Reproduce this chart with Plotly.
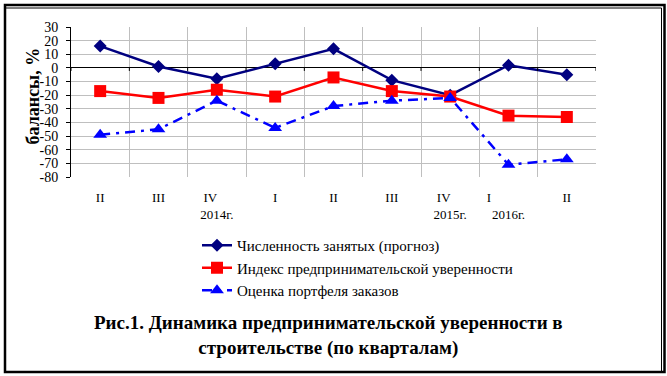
import plotly.graph_objects as go

# ---- data ----
periods = ["2014-II", "2014-III", "2014-IV", "2015-I", "2015-II", "2015-III", "2015-IV", "2016-I", "2016-II"]
tick_labels = ["II", "III", "IV\u00a0\u00a0\u00a0\u00a0<br>2014г.", "I", "II", "III",
               "IV\u00a0\u00a0\u00a0\u00a0<br>2015г.",
               "I\u00a0\u00a0\u00a0\u00a0\u00a0\u00a0\u00a0\u00a0\u00a0\u00a0\u00a0\u00a0<br>2016г.", "II"]
employment = [16, 1, -8, 3, 14, -9, -20, 2, -5]
confidence = [-17, -22, -16, -21, -7, -17, -21, -35, -36]
orders = [-49, -45, -24, -44, -28, -24, -22, -71, -67]

series_names = ["Численность занятых (прогноз)",
                "Индекс предпринимательской уверенности",
                "Оценка портфеля заказов"]
y_ticks = list(range(-80, 31, 10))
y_tick_text = [str(v) for v in y_ticks]

# ---- layout geometry (pixels) ----
W, H = 667, 376
L, R, T, B = 71, 71, 27, 199
PW, PH = W - L - R, H - T - B


def px(x):
    return (x - L) / PW


def py(y):
    return 1 - (y - T) / PH


SERIF = "Liberation Serif, Times New Roman, serif"

fig = go.Figure()
fig.add_trace(go.Scatter(
    x=periods, y=employment, name=series_names[0], mode="lines+markers",
    line=dict(color="#000080", width=2.5),
    marker=dict(symbol="diamond", size=10, color="#000080")))
fig.add_trace(go.Scatter(
    x=periods, y=confidence, name=series_names[1], mode="lines+markers",
    line=dict(color="#FF0000", width=2.5),
    marker=dict(symbol="square", size=12, color="#FF0000")))
fig.add_trace(go.Scatter(
    x=periods, y=orders, name=series_names[2], mode="lines+markers",
    line=dict(color="#0000FF", width=2.5, dash="10px,6px,3px,6px"),
    marker=dict(symbol="triangle-up", size=12, color="#0000FF")))

fig.update_xaxes(
    type="category", categoryorder="array", categoryarray=periods,
    tickmode="array", tickvals=periods, ticktext=tick_labels,
    tickson="boundaries", showgrid=True, gridcolor="#BFBFBF", gridwidth=1,
    ticks="", showline=False, zeroline=False,
    tickfont=dict(family=SERIF, size=13, color="black"),
    ticklabelstandoff=11, range=[-0.5, 8.5])
fig.update_yaxes(
    range=[-80, 30], tickmode="array", tickvals=y_ticks, ticktext=y_tick_text,
    showgrid=True, gridcolor="#BFBFBF", gridwidth=1,
    ticks="outside", ticklen=4, tickcolor="black", showline=True, linecolor="black", linewidth=1,
    zeroline=True, zerolinecolor="black", zerolinewidth=1,
    tickfont=dict(family=SERIF, size=14, color="black"), ticklabelstandoff=5)

# small tick marks on the zero line at category boundaries
for i in range(len(periods) + 1):
    fig.add_shape(type="line", xref="x", yref="y", x0=i - 0.5, x1=i - 0.5, y0=0, y1=-2.2,
                  line=dict(color="black", width=1))

# y-axis title
fig.add_annotation(text="<b>балансы, %</b>", textangle=-90, xref="paper", yref="paper",
                   x=px(32.5), y=py(96), xanchor="center", yanchor="middle", showarrow=False,
                   font=dict(family=SERIF, size=18, color="black"))

# caption
fig.add_annotation(text="<b>Рис.1. Динамика предпринимательской уверенности в<br>строительстве (по кварталам)</b>",
                   xref="paper", yref="paper", x=px(328), y=py(335), xanchor="center", yanchor="middle",
                   showarrow=False, font=dict(family=SERIF, size=19, color="black"), align="center")

# outer frame (double border on top/right, thick on left/bottom)
fig.add_shape(type="rect", xref="paper", yref="paper", x0=px(5), x1=px(664.5), y0=py(5), y1=py(372),
              line=dict(color="black", width=2.5))
fig.add_shape(type="line", xref="paper", yref="paper", x0=px(5), x1=px(661.5), y0=py(8), y1=py(8),
              line=dict(color="black", width=1))
fig.add_shape(type="line", xref="paper", yref="paper", x0=px(661.5), x1=px(661.5), y0=py(8), y1=py(372),
              line=dict(color="black", width=1))

fig.update_layout(
    width=W, height=H, margin=dict(l=L, r=R, t=T, b=B),
    paper_bgcolor="white", plot_bgcolor="white",
    showlegend=True,
    legend=dict(x=px(197), y=py(229), xanchor="left", yanchor="top",
                font=dict(family=SERIF, size=15, color="black"),
                bgcolor="rgba(0,0,0,0)"),
)

fig.write_html("out.html", config={"displayModeBar": False},
               post_script="document.body.style.margin='0';document.body.style.overflow='hidden';")
